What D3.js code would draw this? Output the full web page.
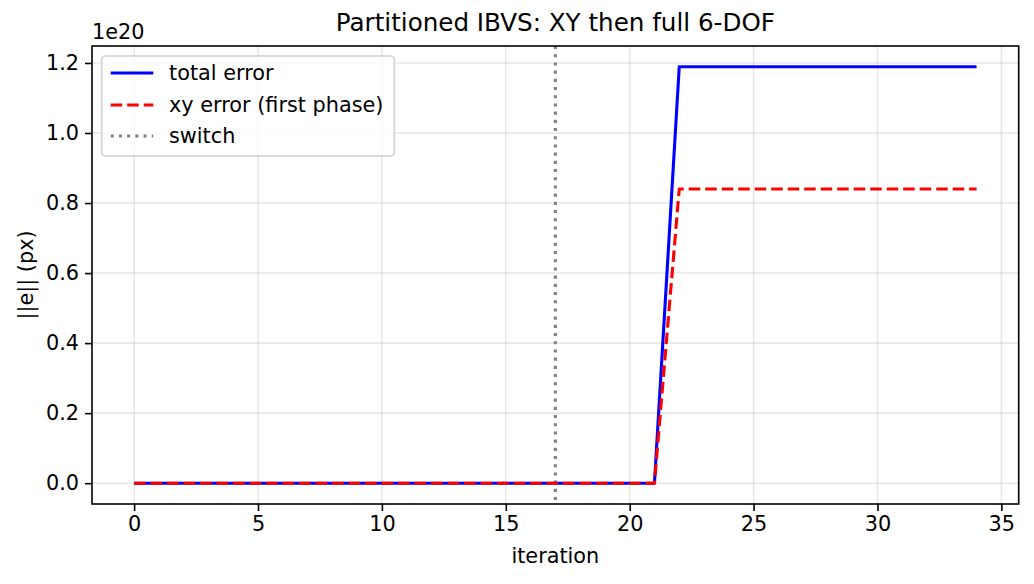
<!DOCTYPE html>
<html>
<head>
<meta charset="utf-8">
<script src="https://cdn.jsdelivr.net/npm/d3@7"></script>
<style>
  html, body { margin: 0; padding: 0; background: #fff; }
  svg { display: block; font-family: "DejaVu Sans", sans-serif; }
</style>
</head>
<body>
<svg id="chart" width="1034" height="584"></svg>
<script>
// ---- data (values in units of 1e20 px) ----
const iterations = d3.range(0, 35);
const totalError = [0,0,0,0,0,0,0,0,0,0,0,0,0,0,0,0,0,0,0,0,0,0,
                    1.189,1.189,1.189,1.189,1.189,1.189,1.189,1.189,1.189,1.189,1.189,1.189,1.189];
const xyError    = [0,0,0,0,0,0,0,0,0,0,0,0,0,0,0,0,0,0,0,0,0,0,
                    0.84,0.84,0.84,0.84,0.84,0.84,0.84,0.84,0.84,0.84,0.84,0.84,0.84];
const switchIter = 17;
const xTicks = [0, 5, 10, 15, 20, 25, 30, 35];
const yTicks = [0.0, 0.2, 0.4, 0.6, 0.8, 1.0, 1.2];
const offsetLabel = "1e20";
const seriesNames = ["total error", "xy error (first phase)", "switch"];

// ---- layout ----
const svg = d3.select("#chart");
const L = 92, R = 1018.7, T = 46, B = 504;
const FS = 20.8, TFS = 24.6;

const xMin = d3.min(iterations), xMax = d3.max(iterations);
const xPad = (xMax - xMin) * 0.05;
const yMinD = 0, yMaxD = d3.max(totalError);
const yPad = (yMaxD - yMinD) * 0.05;

const x = d3.scaleLinear().domain([xMin - xPad, xMax + xPad]).range([L, R]);
const y = d3.scaleLinear().domain([yMinD - yPad, yMaxD + yPad]).range([B, T]);

// grid
const grid = svg.append("g");
grid.selectAll("line.gx").data(xTicks).enter().append("line")
  .attr("x1", d => x(d)).attr("x2", d => x(d)).attr("y1", T).attr("y2", B)
  .attr("stroke", "#b0b0b0").attr("stroke-opacity", 0.3).attr("stroke-width", 1.6);
grid.selectAll("line.gy").data(yTicks).enter().append("line")
  .attr("x1", L).attr("x2", R).attr("y1", d => y(d)).attr("y2", d => y(d))
  .attr("stroke", "#b0b0b0").attr("stroke-opacity", 0.3).attr("stroke-width", 1.6);

// clip
svg.append("clipPath").attr("id", "clip").append("rect")
  .attr("x", L).attr("y", T).attr("width", R - L).attr("height", B - T);
const plot = svg.append("g").attr("clip-path", "url(#clip)");

// switch line
plot.append("line")
  .attr("x1", x(switchIter)).attr("x2", x(switchIter)).attr("y1", T).attr("y2", B)
  .attr("stroke", "gray").attr("stroke-width", 3.1).attr("stroke-dasharray", "3.1,5.1");

const lineGen = vals => d3.line().x((d, i) => x(iterations[i])).y(d => y(d))(vals);

plot.append("path").attr("d", lineGen(totalError))
  .attr("fill", "none").attr("stroke", "#0000ff").attr("stroke-width", 3.1)
  .attr("stroke-linejoin", "round");
plot.append("path").attr("d", lineGen(xyError))
  .attr("fill", "none").attr("stroke", "#ff0000").attr("stroke-width", 3.1)
  .attr("stroke-dasharray", "11.5,5").attr("stroke-linejoin", "round");

// axes frame
svg.append("rect").attr("x", L).attr("y", T).attr("width", R - L).attr("height", B - T)
  .attr("fill", "none").attr("stroke", "#000").attr("stroke-width", 1.6);

// x axis
const xAxis = d3.axisBottom(x).tickValues(xTicks).tickSize(7).tickPadding(5)
  .tickFormat(d3.format("d"));
const gx = svg.append("g").attr("transform", `translate(0,${B})`).call(xAxis);
gx.select(".domain").remove();
gx.selectAll(".tick line").attr("stroke", "#000").attr("stroke-width", 1.6);
gx.selectAll(".tick text").attr("font-size", FS).attr("fill", "#000")
  .attr("font-family", "DejaVu Sans");

// y axis
const yAxis = d3.axisLeft(y).tickValues(yTicks).tickSize(7).tickPadding(6)
  .tickFormat(d3.format(".1f"));
const gy = svg.append("g").attr("transform", `translate(${L},0)`).call(yAxis);
gy.select(".domain").remove();
gy.selectAll(".tick line").attr("stroke", "#000").attr("stroke-width", 1.6);
gy.selectAll(".tick text").attr("font-size", FS).attr("fill", "#000")
  .attr("font-family", "DejaVu Sans");

// offset text
svg.append("text").attr("x", L).attr("y", 39).attr("font-size", FS).text(offsetLabel);

// title
svg.append("text").attr("x", (L + R) / 2).attr("y", 31).attr("text-anchor", "middle")
  .attr("font-size", TFS).text("Partitioned IBVS: XY then full 6-DOF");

// axis labels
svg.append("text").attr("x", (L + R) / 2).attr("y", 563).attr("text-anchor", "middle")
  .attr("font-size", FS).text("iteration");
svg.append("text").attr("transform", `translate(33,${(T + B) / 2}) rotate(-90)`)
  .attr("text-anchor", "middle").attr("font-size", FS).text("||e|| (px)");

// legend
const lg = svg.append("g");
lg.append("rect").attr("x", 101.7).attr("y", 56).attr("width", 292.6).attr("height", 100)
  .attr("rx", 4).attr("fill", "#fff").attr("fill-opacity", 0.8)
  .attr("stroke", "#d0d0d0").attr("stroke-width", 1.6);
const legendRows = [
  { name: seriesNames[0], color: "#0000ff", dash: null, y: 73 },
  { name: seriesNames[1], color: "#ff0000", dash: "11.5,5", y: 105 },
  { name: seriesNames[2], color: "gray", dash: "3.1,5.1", y: 136 }
];
legendRows.forEach(r => {
  lg.append("line").attr("x1", 110.7).attr("x2", 153.3).attr("y1", r.y).attr("y2", r.y)
    .attr("stroke", r.color).attr("stroke-width", 3.1)
    .attr("stroke-dasharray", r.dash);
  lg.append("text").attr("x", 169).attr("y", r.y).attr("dy", "0.35em")
    .attr("font-size", FS).text(r.name);
});
</script>
</body>
</html>
